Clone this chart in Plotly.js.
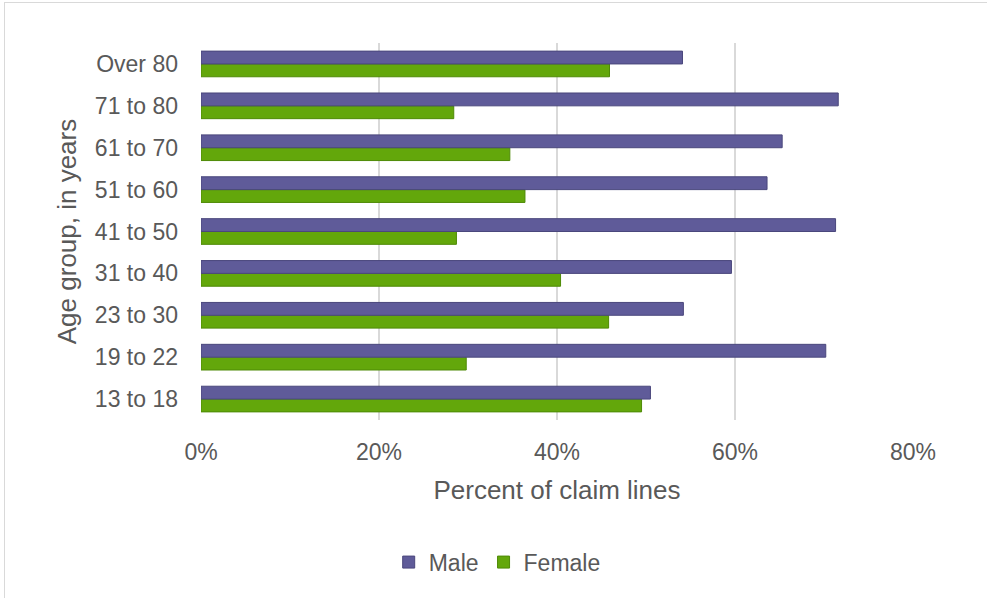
<!DOCTYPE html>
<html>
<head>
<meta charset="utf-8">
<script src="https://cdn.plot.ly/plotly-3.0.1.min.js"></script>
<style>
  html, body { margin: 0; padding: 0; background: #ffffff; overflow: hidden; }
  #wrap { position: relative; width: 987px; height: 598px; }
  #chart { width: 987px; height: 598px; }
  #frame { position: absolute; left: 4px; top: 2px; width: 1200px; height: 800px;
           border-left: 1px solid #d9d9d9; border-top: 1px solid #d9d9d9; pointer-events: none; }
</style>
</head>
<body>
<div id="wrap">
  <div id="chart"></div>
  <div id="frame"></div>
</div>
<script>
// Categories (bottom to top as drawn)
const ageGroups = ["13 to 18", "19 to 22", "23 to 30", "31 to 40", "41 to 50",
                   "51 to 60", "61 to 70", "71 to 80", "Over 80"];
// Percent of claim lines
const maleValues   = [50.5, 70.2, 54.2, 59.6, 71.3, 63.6, 65.3, 71.6, 54.1];
const femaleValues = [49.5, 29.8, 45.8, 40.4, 28.7, 36.4, 34.7, 28.4, 45.9];
const xTickVals = [0, 20, 40, 60, 80];
const xTickText = ["0%", "20%", "40%", "60%", "80%"];

const fontFamily = "Liberation Sans, Arial, sans-serif";
const textColor = "#595959";

const traces = [
  {
    type: "bar", orientation: "h", name: "Female",
    y: ageGroups, x: femaleValues,
    marker: { color: "#63A70B", line: { color: "#4E8A06", width: 1 } },
    hoverinfo: "x+y"
  },
  {
    type: "bar", orientation: "h", name: "Male",
    y: ageGroups, x: maleValues,
    marker: { color: "#5F5B99", line: { color: "#4A477C", width: 1 } },
    hoverinfo: "x+y"
  }
];

const layout = {
  width: 987, height: 598,
  margin: { l: 201, r: 74, t: 43, b: 178, pad: 0 },
  paper_bgcolor: "#ffffff", plot_bgcolor: "#ffffff",
  font: { family: fontFamily, color: textColor, size: 23 },
  barmode: "group",
  bargap: 0.387,
  bargroupgap: 0,
  showlegend: true,
  legend: {
    orientation: "h", traceorder: "reversed",
    x: 0.416, xanchor: "center", y: -0.377, yanchor: "middle",
    font: { family: fontFamily, size: 23, color: textColor },
    itemwidth: 30
  },
  xaxis: {
    range: [0, 80],
    tickvals: xTickVals, ticktext: xTickText,
    showgrid: true, gridcolor: "#d9d9d9", gridwidth: 2,
    zeroline: false, showline: false, ticks: "",
    ticklabelstandoff: 16,
    tickfont: { family: fontFamily, size: 23, color: textColor },
    title: { text: "Percent of claim lines", standoff: 16,
             font: { family: fontFamily, size: 26, color: textColor } },
    automargin: false, fixedrange: true
  },
  yaxis: {
    type: "category",
    categoryorder: "array", categoryarray: ageGroups,
    showgrid: false, zeroline: false, showline: false, ticks: "",
    ticklabelstandoff: 22,
    tickfont: { family: fontFamily, size: 23, color: textColor },
    title: { text: "Age group, in years", standoff: 10,
             font: { family: fontFamily, size: 26, color: textColor } },
    automargin: false, fixedrange: true
  }
};

Plotly.newPlot("chart", traces, layout, { displayModeBar: false, staticPlot: true });
</script>
</body>
</html>
